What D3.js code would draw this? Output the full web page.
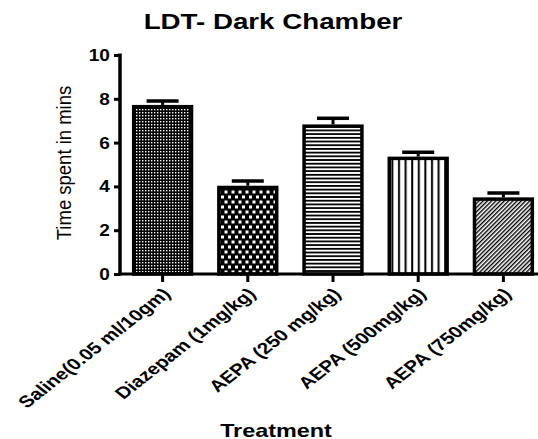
<!DOCTYPE html>
<html>
<head>
<meta charset="utf-8">
<script src="https://cdn.jsdelivr.net/npm/d3@7"></script>
<style>
  body { margin: 0; background: #fff; }
  svg { font-family: "Liberation Sans", Arial, sans-serif; }
</style>
</head>
<body>
<svg width="538" height="439"></svg>
<script>
// Treatment groups
var groups = [
  'Saline(0.05 ml/10gm)',
  'Diazepam (1mg/kg)',
  'AEPA (250 mg/kg)',
  'AEPA (500mg/kg)',
  'AEPA (750mg/kg)'
];

// Mean time spent (mins) and SEM
var means = [7.72, 4.03, 6.83, 5.36, 3.5];
var sems = [0.18, 0.22, 0.28, 0.2, 0.2];

// fill pattern per group
var patterns = ['dots', 'checks', 'hlines', 'vlines', 'diag'];

var yTicks = [0, 2, 4, 6, 8, 10];

var svg = d3.select('svg');

// pattern defs
var defs = svg.append('defs');

var p = defs.append('pattern').attr('id', 'dots')
  .attr('patternUnits', 'userSpaceOnUse').attr('width', 3).attr('height', 3);
p.append('rect').attr('width', 3).attr('height', 3).attr('fill', '#000');
p.append('rect').attr('x', 1).attr('y', 1).attr('width', 1.4).attr('height', 1.4).attr('fill', '#fff');

p = defs.append('pattern').attr('id', 'checks')
  .attr('patternUnits', 'userSpaceOnUse').attr('width', 7).attr('height', 10);
p.append('rect').attr('width', 7).attr('height', 10).attr('fill', '#000');
p.append('rect').attr('x', 0.5).attr('y', 0.5).attr('width', 3).attr('height', 3).attr('fill', '#fff');
p.append('rect').attr('x', 4).attr('y', 5.5).attr('width', 3).attr('height', 3).attr('fill', '#fff');

p = defs.append('pattern').attr('id', 'hlines')
  .attr('patternUnits', 'userSpaceOnUse').attr('width', 10).attr('height', 3.7);
p.append('rect').attr('width', 10).attr('height', 3.7).attr('fill', '#fff');
p.append('rect').attr('width', 10).attr('height', 1.8).attr('fill', '#000');

p = defs.append('pattern').attr('id', 'vlines')
  .attr('patternUnits', 'userSpaceOnUse').attr('width', 6.6).attr('height', 10);
p.append('rect').attr('width', 6.6).attr('height', 10).attr('fill', '#fff');
p.append('rect').attr('x', 2).attr('width', 2).attr('height', 10).attr('fill', '#000');

p = defs.append('pattern').attr('id', 'diag')
  .attr('patternUnits', 'userSpaceOnUse').attr('width', 3).attr('height', 3)
  .attr('patternTransform', 'rotate(45)');
p.append('rect').attr('width', 3).attr('height', 3).attr('fill', '#fff');
p.append('rect').attr('width', 1.4).attr('height', 3).attr('fill', '#000');

// scales
var x = d3.scaleBand().domain(groups).range([120, 546]).paddingInner(0.28).paddingOuter(0.14);
var y = d3.scaleLinear().domain([0, 10]).range([274, 55]);

// error bars (upper only, drawn behind bars)
var err = svg.append('g');
groups.forEach(function(g, i) {
  var cx = x(g) + x.bandwidth() / 2;
  err.append('line')
    .attr('x1', cx).attr('x2', cx)
    .attr('y1', y(means[i])).attr('y2', y(means[i] + sems[i]))
    .attr('stroke', '#000').attr('stroke-width', 3);
  err.append('line')
    .attr('x1', cx - 16).attr('x2', cx + 16)
    .attr('y1', y(means[i] + sems[i])).attr('y2', y(means[i] + sems[i]))
    .attr('stroke', '#000').attr('stroke-width', 3.5);
});

// bars
svg.append('g').selectAll('rect').data(groups).enter().append('rect')
  .attr('x', function(d) { return x(d) + 1.75; })
  .attr('y', function(d, i) { return y(means[i]) + 1.75; })
  .attr('width', x.bandwidth() - 3.5)
  .attr('height', function(d, i) { return y(0) - y(means[i]) - 1.75; })
  .attr('fill', function(d, i) { return 'url(#' + patterns[i] + ')'; })
  .attr('stroke', '#000')
  .attr('stroke-width', 3.5);

// y axis
var yAxis = svg.append('g').attr('transform', 'translate(120,0)')
  .call(d3.axisLeft(y).tickValues(yTicks).tickSize(6).tickPadding(3).tickSizeOuter(0));
yAxis.select('.domain').remove();
yAxis.selectAll('.tick line').attr('stroke-width', 3);
yAxis.selectAll('.tick text')
  .attr('font-family', '"Liberation Sans", Arial, sans-serif')
  .attr('font-size', 17).attr('font-weight', 'bold').attr('fill', '#000')
  .attr('transform', 'scale(1.12,1)');

// x axis
var xAxis = svg.append('g').attr('transform', 'translate(0,274)')
  .call(d3.axisBottom(x).tickSize(8).tickSizeOuter(0).tickFormat(''));
xAxis.select('.domain').remove();
xAxis.selectAll('.tick line').attr('stroke-width', 3);

// thick axis lines
svg.append('line')
  .attr('x1', 120).attr('x2', 120).attr('y1', y(10) - 1.5).attr('y2', y(0) + 1.5)
  .attr('stroke', '#000').attr('stroke-width', 3.5);
svg.append('line')
  .attr('x1', 118.25).attr('x2', 538).attr('y1', y(0)).attr('y2', y(0))
  .attr('stroke', '#000').attr('stroke-width', 3.2);

// rotated category labels (picture is stretched sideways)
svg.append('g').selectAll('text').data(groups).enter().append('text')
  .attr('transform', function(d) {
    return 'translate(' + (x(d) + x.bandwidth() / 2 + 9) + ',295) scale(1.27,1) rotate(-45)';
  })
  .attr('text-anchor', 'end')
  .attr('font-size', 16.3)
  .attr('font-weight', 'bold')
  .text(function(d) { return d; });

// title
svg.append('text')
  .attr('transform', 'translate(273,29) scale(1.26,1)')
  .attr('text-anchor', 'middle')
  .attr('font-size', 22).attr('font-weight', 'bold')
  .text('LDT- Dark Chamber');

// axis titles
svg.append('text')
  .attr('transform', 'translate(71,163) rotate(-90) scale(1,1.1)')
  .attr('text-anchor', 'middle')
  .attr('font-size', 18.5)
  .text('Time spent in mins');

svg.append('text')
  .attr('transform', 'translate(276,437) scale(1.3,1)')
  .attr('text-anchor', 'middle')
  .attr('font-size', 18).attr('font-weight', 'bold')
  .text('Treatment');
</script>
</body>
</html>
